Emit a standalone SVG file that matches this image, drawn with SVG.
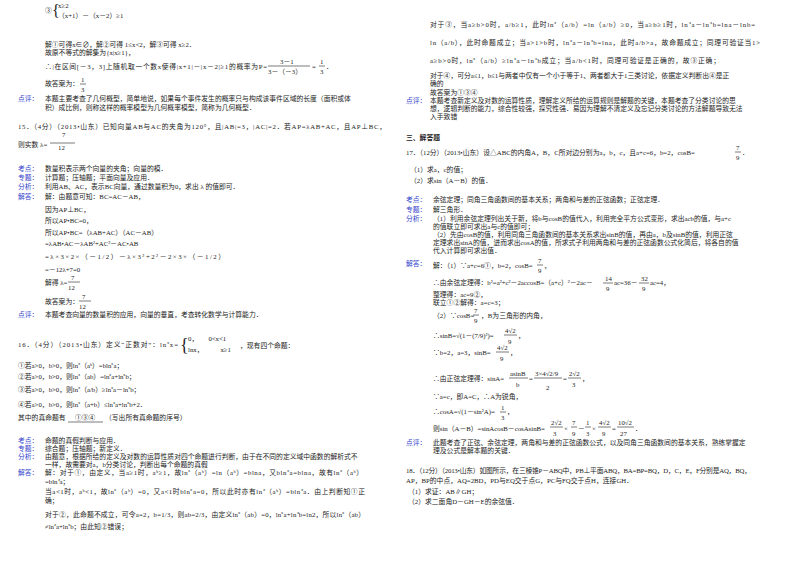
<svg xmlns="http://www.w3.org/2000/svg" width="800" height="565" viewBox="0 0 800 565">
<style>
text{font-family:"Liberation Serif","Noto Sans CJK SC",serif;font-size:6.8px;fill:#222}
.l{fill:#3344cc}
.b{font-weight:bold}
line{stroke:#222;stroke-width:0.6}
</style>
<rect width="800" height="565" fill="#fff"/>
<g id="left">
<text x="45" y="13">③</text>
<text x="52" y="16" style="font-size:16px">{</text>
<text x="58" y="8">x≥2</text>
<text x="58" y="18">（x+1）－（x－2）≥1</text>
<text x="45" y="47">解①可得x∈∅，解②可得 1≤x&lt;2，解③可得 x≥2．</text>
<text x="45" y="55">故原不等式的解集为{x|x≥1}，</text>
<text x="45" y="69" textLength="222">∴|在区间[－3，3]上随机取一个数x使得|x+1|－|x－2|≥1的概率为P=</text>
<text x="280" y="64">3－1</text><line x1="268" y1="66" x2="310" y2="66"/><text x="268" y="74">3－（－3）</text>
<text x="312" y="69">=</text><text x="320" y="64">1</text><line x1="319" y1="66" x2="325" y2="66"/><text x="320" y="74">3</text><text x="326" y="69">．</text>
<text x="45" y="86">故答案为：</text><text x="81" y="82">1</text><line x1="80" y1="84" x2="86" y2="84"/><text x="81" y="92">3</text>
<text x="18" y="101" class="l">点评：</text>
<text x="45" y="101">本题主要考查了几何概型，简单地说，如果每个事件发生的概率只与构成该事件区域的长度（面积或体</text>
<text x="45" y="110">积）成比例，则称这样的概率模型为几何概率模型，简称为几何概型．</text>
<text x="18" y="129" textLength="368">15．（4分）（2013•山东）已知向量AB与AC的夹角为120°，且|AB|=3，|AC|=2．若AP=λAB+AC，且AP⊥BC，</text>
<text x="62" y="137">7</text>
<text x="18" y="147">则实数 λ=</text><line x1="50" y1="143" x2="75" y2="143"/><text x="58" y="150">12</text>
<text x="18" y="171" class="l">考点：</text><text x="45" y="171">数量积表示两个向量的夹角；向量的模．</text>
<text x="18" y="180" class="l">专题：</text><text x="45" y="180">计算题；压轴题；平面向量及应用．</text>
<text x="18" y="189" class="l">分析：</text><text x="45" y="189">利用AB、AC，表示BC向量，通过数量积为0，求出 λ 的值即可．</text>
<text x="18" y="199" class="l">解答：</text><text x="45" y="199">解：由题意可知：BC=AC－AB，</text>
<text x="45" y="212">因为AP⊥BC，</text>
<text x="45" y="223">所以AP•BC=0，</text>
<text x="45" y="235">所以AP•BC=（λAB+AC）（AC－AB）</text>
<text x="45" y="246">=λAB•AC－λAB²+AC²－AC•AB</text>
<text x="45" y="259" textLength="180">=λ×3×2×（－1/2）－λ×3²+2²－2×3×（－1/2）</text>
<text x="45" y="272">=－12λ+7=0</text>
<text x="45" y="285">解得 λ=</text><text x="71" y="280">7</text><line x1="68" y1="282" x2="80" y2="282"/><text x="68" y="290">12</text>
<text x="45" y="304">故答案为：</text><text x="82" y="299">7</text><line x1="79" y1="301" x2="91" y2="301"/><text x="79" y="309">12</text>
<text x="18" y="317" class="l">点评：</text><text x="45" y="317">本题考查向量的数量积的应用，向量的垂直，考查转化数学与计算能力．</text>
<text x="18" y="347" textLength="160">16．（4分）（2013•山东）定义“正数对”：ln⁺x=</text>
<text x="180" y="351" style="font-size:18px">{</text>
<text x="188" y="341">0，　　0&lt;x&lt;1</text><text x="188" y="352">lnx，　　　x≥1</text>
<text x="240" y="348">，现有四个命题：</text>
<text x="18" y="368">①若a&gt;0，b&gt;0，则ln⁺（aᵇ）=bln⁺a；</text>
<text x="18" y="379">②若a&gt;0，b&gt;0，则ln⁺（ab）=ln⁺a+ln⁺b；</text>
<text x="18" y="392">③若a&gt;0，b&gt;0，则ln⁺（a/b）≥ln⁺a－ln⁺b；</text>
<text x="18" y="407">④若a&gt;0，b&gt;0，则ln⁺（a+b）≤ln⁺a+ln⁺b+2．</text>
<text x="18" y="420">其中的真命题有</text><line x1="68" y1="422" x2="103" y2="422"/><text x="75" y="420">①③④</text><text x="105" y="420">（写出所有真命题的序号）</text>
<text x="18" y="443" class="l">考点：</text><text x="45" y="443">命题的真假判断与应用．</text>
<text x="18" y="451" class="l">专题：</text><text x="45" y="451">综合题；压轴题；新定义．</text>
<text x="18" y="459" class="l">分析：</text><text x="45" y="459">由题意，根据所给的定义及对数的运算性质对四个命题进行判断，由于在不同的定义域中函数的解析式不</text>
<text x="45" y="467">一样，故需要对a，b分类讨论，判断出每个命题的真假</text>
<text x="18" y="475" class="l">解答：</text><text x="45" y="475" textLength="318">解：对于①，由定义，当a≥1时，aᵇ≥1，故ln⁺（aᵇ）=ln（aᵇ）=blna，又bln⁺a=blna，故有ln⁺（aᵇ）</text>
<text x="45" y="484">=bln⁺a；</text>
<text x="45" y="494" textLength="320">当a&lt;1时，aᵇ&lt;1，故ln⁺（aᵇ）=0，又a&lt;1时bln⁺a=0，所以此时亦有ln⁺（aᵇ）=bln⁺a．由上判断知①正</text>
<text x="45" y="503">确；</text>
<text x="45" y="517" textLength="320">对于②，此命题不成立，可令a=2，b=1/3，则ab=2/3，由定义ln⁺（ab）=0，ln⁺a+ln⁺b=ln2，所以ln⁺（ab）</text>
<text x="45" y="529">≠ln⁺a+ln⁺b；由此知②错误；</text>
</g>
<g id="right">
<text x="430" y="27" textLength="325">对于③，当a≥b&gt;0时，a/b≥1，此时ln⁺（a/b）=ln（a/b）≥0，当a≥b≥1时，ln⁺a－ln⁺b=lna－lnb=</text>
<text x="430" y="45" textLength="330">ln（a/b），此时命题成立；当a&gt;1&gt;b时，ln⁺a－ln⁺b=lna，此时a/b&gt;a，故命题成立；同理可验证当1&gt;</text>
<text x="430" y="63" textLength="290">a≥b&gt;0时，ln⁺（a/b）≥ln⁺a－ln⁺b成立；当a/b&lt;1时，同理可验证是正确的，故③正确；</text>
<text x="430" y="78">对于④，可分a≤1，b≤1与两者中仅有一个小于等于1、两者都大于1三类讨论，依据定义判断出④是正</text>
<text x="430" y="86">确的</text>
<text x="430" y="95">故答案为①③④</text>
<text x="406" y="103" class="l">点评：</text><text x="430" y="103">本题考查新定义及对数的运算性质，理解定义所给的运算规则是解题的关键，本题考查了分类讨论的思</text>
<text x="430" y="111">想，逻辑判断的能力，综合性较强，探究性强．易因为理解不清定义及忘记分类讨论的方法解题导致无法</text>
<text x="430" y="119">入手致错</text>
<text x="406" y="140" class="b">三、解答题</text>
<text x="406" y="155">17．（12分）（2013•山东）设△ABC的内角A，B，C所对边分别为a，b，c，且a+c=6，b=2，cosB=</text>
<text x="736" y="150">7</text><line x1="735" y1="152" x2="741" y2="152"/><text x="736" y="160">9</text><text x="742" y="155">．</text>
<text x="410" y="172">（1）求a，c的值；</text>
<text x="410" y="183">（2）求sin（A－B）的值．</text>
<text x="406" y="202" class="l">考点：</text><text x="433" y="202">余弦定理；同角三角函数间的基本关系；两角和与差的正弦函数；正弦定理．</text>
<text x="406" y="212" class="l">专题：</text><text x="433" y="212">解三角形．</text>
<text x="406" y="221" class="l">分析：</text><text x="433" y="221">（1）利用余弦定理列出关于新，将b与cosB的值代入，利用完全平方公式变形，求出acb的值，与a+c</text>
<text x="433" y="229">的值联立即可求出a与c的值即可；</text>
<text x="433" y="237">（2）先由cosB的值，利用同角三角函数间的基本关系求出sinB的值，再由a，b及sinB的值，利用正弦</text>
<text x="433" y="245">定理求出sinA的值，进而求出cosA的值，所求式子利用两角和与差的正弦函数公式化简后，将各自的值</text>
<text x="433" y="253">代入计算即可求出值．</text>
<text x="406" y="266" class="l">解答：</text><text x="433" y="268">解：（1）∵a+c=6①，b=2，cosB=</text>
<text x="538" y="263">7</text><line x1="537" y1="265" x2="543" y2="265"/><text x="538" y="273">9</text><text x="544" y="268">，</text>
<text x="433" y="285">∴由余弦定理得：b²=a²+c²－2accosB=（a+c）²－2ac－</text><text x="605" y="281">14</text><line x1="603" y1="283" x2="613" y2="283"/><text x="606" y="291">9</text><text x="614" y="285">ac=36－</text><text x="641" y="281">32</text><line x1="639" y1="283" x2="649" y2="283"/><text x="642" y="291">9</text><text x="650" y="285">ac=4，</text>
<text x="433" y="297">整理得：ac=9②，</text>
<text x="433" y="305">联立①②解得：a=c=3；</text>
<text x="433" y="318">（2）∵cosB=</text><text x="474" y="313">7</text><line x1="473" y1="315" x2="479" y2="315"/><text x="474" y="323">9</text><text x="481" y="318">，B为三角形的内角，</text>
<text x="433" y="338">∴sinB=√(1－(7/9)²)=</text><text x="505" y="333">4√2</text><line x1="504" y1="335" x2="517" y2="335"/><text x="508" y="344">9</text><text x="518" y="338">，</text>
<text x="433" y="355">∵b=2，a=3，sinB=</text><text x="497" y="350">4√2</text><line x1="496" y1="352" x2="509" y2="352"/><text x="500" y="361">9</text><text x="510" y="355">，</text>
<text x="433" y="381">∴由正弦定理得：sinA=</text><text x="510" y="376">asinB</text><line x1="509" y1="378" x2="528" y2="378"/><text x="516" y="387">b</text>
<text x="529" y="381">=</text><text x="535" y="376">3×4√2/9</text><line x1="534" y1="378" x2="562" y2="378"/><text x="546" y="390">2</text>
<text x="563" y="381">=</text><text x="569" y="376">2√2</text><line x1="568" y1="378" x2="581" y2="378"/><text x="572" y="387">3</text><text x="582" y="381">，</text>
<text x="433" y="399">∵a=c，即A=C，∴A为锐角，</text>
<text x="433" y="414">∴cosA=√(1－sin²A)=</text><text x="501" y="410">1</text><line x1="500" y1="412" x2="506" y2="412"/><text x="501" y="420">3</text><text x="507" y="414">，</text>
<text x="433" y="431">则sin（A－B）=sinAcosB－cosAsinB=</text><text x="551" y="425">2√2</text><line x1="550" y1="427" x2="563" y2="427"/><text x="553" y="436">3</text><text x="564" y="431">×</text><text x="572" y="425">7</text><line x1="571" y1="427" x2="577" y2="427"/><text x="572" y="436">9</text><text x="578" y="431">－</text><text x="586" y="425">1</text><line x1="585" y1="427" x2="591" y2="427"/><text x="586" y="436">3</text><text x="592" y="431">×</text><text x="599" y="425">4√2</text><line x1="598" y1="427" x2="611" y2="427"/><text x="602" y="436">9</text><text x="612" y="431">=</text><text x="618" y="425">10√2</text><line x1="617" y1="427" x2="634" y2="427"/><text x="620" y="436">27</text><text x="635" y="431">．</text>
<text x="406" y="445" class="l">点评：</text><text x="433" y="445">此题考查了正弦、余弦定理，两角和与差的正弦函数公式，以及同角三角函数间的基本关系，熟练掌握定</text>
<text x="433" y="453">理及公式是解本题的关键．</text>
<text x="406" y="473" textLength="345">18．（12分）（2013•山东）如图所示，在三棱锥P－ABQ中，PB⊥平面ABQ，BA=BP=BQ，D，C，E，F分别是AQ，BQ，</text>
<text x="406" y="483">AP，BP的中点，AQ=2BD，PD与EQ交于点G，PC与FQ交于点H，连接GH．</text>
<text x="408" y="494">（1）求证：AB∥GH；</text>
<text x="408" y="504">（2）求二面角D－GH－E的余弦值．</text>
</g>
</svg>
